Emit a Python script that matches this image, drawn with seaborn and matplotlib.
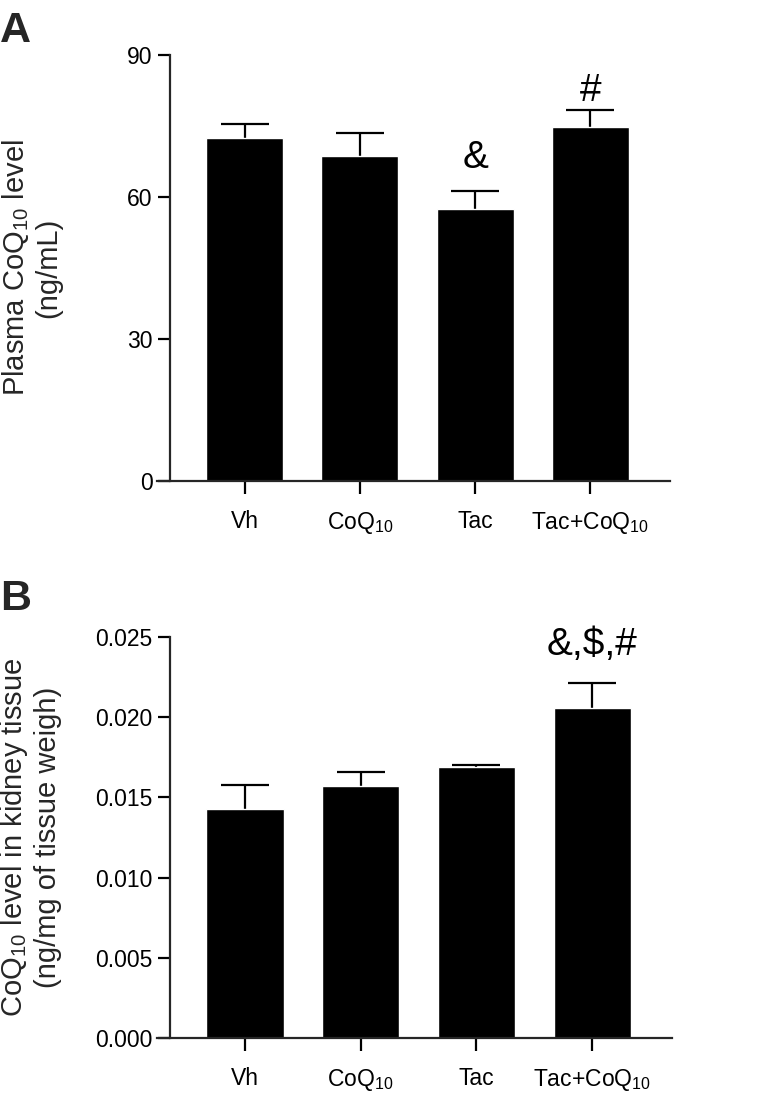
import matplotlib
matplotlib.use('Agg')
import matplotlib.pyplot as plt
import numpy as np
import pandas as pd
import seaborn as sns

# --- data ---
groups = ['Vh', 'CoQ$_{10}$', 'Tac', 'Tac+CoQ$_{10}$']

plasma_mean = [72.5, 68.7, 57.5, 74.8]
plasma_sem = [2.9, 4.9, 3.7, 3.6]
plasma_marks = ['', '', '&', '#']
plasma_mark_y = [None, None, 68.2, 82.3]
plasma_ticks = [0, 30, 60, 90]

kidney_mean = [0.0143, 0.0157, 0.0169, 0.0206]
kidney_sem = [0.0015, 0.0009, 0.0001, 0.0015]
kidney_marks = ['', '', '', '&,$,#']
kidney_mark_y = [None, None, None, 0.0245]
kidney_ticks = [0.000, 0.005, 0.010, 0.015, 0.020, 0.025]

sns.set_theme(style='ticks')
plt.rcParams['font.family'] = ['Liberation Sans', 'DejaVu Sans']
plt.rcParams['mathtext.fontset'] = 'custom'
plt.rcParams['mathtext.rm'] = 'Liberation Sans'
plt.rcParams['mathtext.it'] = 'Liberation Sans:italic'
plt.rcParams['mathtext.bf'] = 'Liberation Sans:bold'

LW = 1.6


def panel(ax, means, sems, marks, mark_y, ticks, ylabel, tickfmt):
    df = pd.DataFrame({'group': groups, 'value': means})
    sns.barplot(data=df, x='group', y='value', color='black', width=0.667,
                saturation=1, ax=ax, errorbar=None, zorder=2)
    _, caps, _ = ax.errorbar(np.arange(len(means)), means,
                             yerr=[np.zeros(len(sems)), sems],
                             fmt='none', ecolor='black', elinewidth=1.6,
                             capsize=17, capthick=1.6, zorder=1)
    # only the upper cap is shown, as in the original
    caps[0].set_visible(False)
    for i, (m, y) in enumerate(zip(marks, mark_y)):
        if m:
            ax.text(i, y, m, ha='center', va='center', fontsize=28, color='black')

    ax.set_xlim(-0.76, 3.69)
    ax.set_ylim(ticks[0], ticks[-1])
    ax.set_yticks(ticks)
    ax.set_yticklabels([tickfmt.format(t) for t in ticks])
    ax.set_xlabel('')
    ax.set_ylabel(ylabel, fontsize=21, linespacing=1.15)
    ax.yaxis.set_label_coords(-0.185, 0.5)

    for s in ['top', 'right']:
        ax.spines[s].set_visible(False)
    ax.spines['left'].set_position(('axes', 0.025))
    ax.spines['left'].set_linewidth(LW)
    ax.spines['bottom'].set_linewidth(LW)
    ax.tick_params(axis='y', length=8.5, width=LW, labelsize=16.5, pad=4, colors='black')
    ax.tick_params(axis='x', length=9, width=LW, labelsize=16.5, pad=12, colors='black')


fig = plt.figure(figsize=(7.76, 11.02), dpi=100)
axA = fig.add_axes([0.2023, 0.5635, 0.6611, 0.3866])
axB = fig.add_axes([0.2023, 0.0581, 0.6637, 0.3639])

panel(axA, plasma_mean, plasma_sem, plasma_marks, plasma_mark_y, plasma_ticks,
      'Plasma CoQ$_{10}$ level\n(ng/mL)', '{:d}')
panel(axB, kidney_mean, kidney_sem, kidney_marks, kidney_mark_y, kidney_ticks,
      'CoQ$_{10}$ level in kidney tissue\n(ng/mg of tissue weigh)', '{:.3f}')

fig.text(0.0, 1 - 42 / 1102, 'A', fontsize=31, fontweight='bold', ha='left', va='baseline')
fig.text(0.0, 1 - 610 / 1102, 'B', fontsize=31, fontweight='bold', ha='left', va='baseline')

fig.savefig('out.png', dpi=100, facecolor='white')
